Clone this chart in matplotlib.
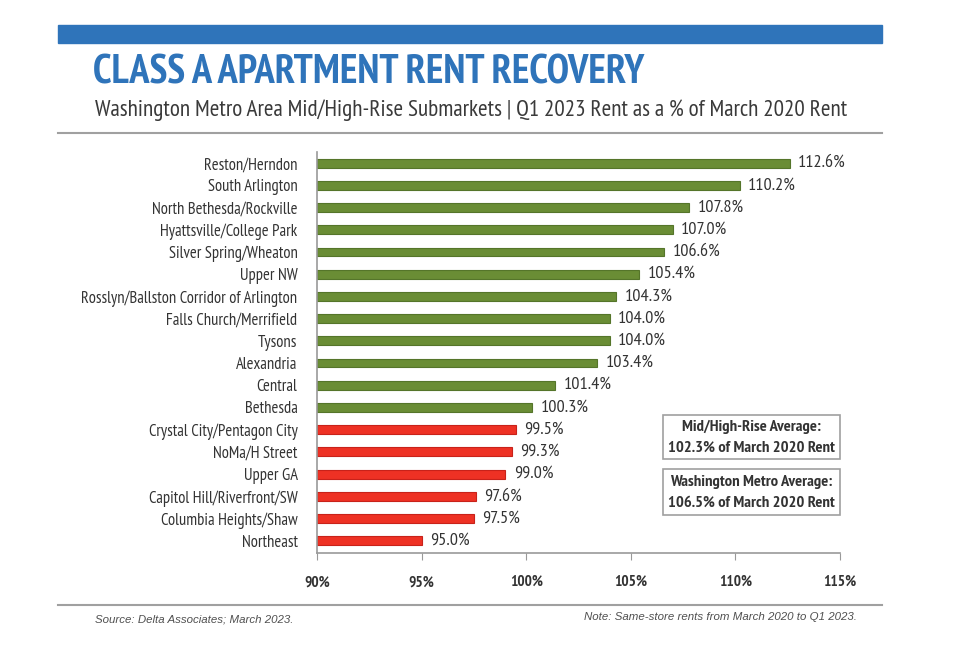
import matplotlib
matplotlib.use("Agg")
import matplotlib.pyplot as plt
from matplotlib import font_manager as fm
from matplotlib import patheffects as pe
from matplotlib.patches import Rectangle
from matplotlib.lines import Line2D

categories = ["Reston/Herndon", "South Arlington", "North Bethesda/Rockville",
              "Hyattsville/College Park", "Silver Spring/Wheaton", "Upper NW",
              "Rosslyn/Ballston Corridor of Arlington", "Falls Church/Merrifield",
              "Tysons", "Alexandria", "Central", "Bethesda",
              "Crystal City/Pentagon City", "NoMa/H Street", "Upper GA",
              "Capitol Hill/Riverfront/SW", "Columbia Heights/Shaw", "Northeast"]
values = [112.6, 110.2, 107.8, 107.0, 106.6, 105.4, 104.3, 104.0, 104.0, 103.4,
          101.4, 100.3, 99.5, 99.3, 99.0, 97.6, 97.5, 95.0]
xticks = [90, 95, 100, 105, 110, 115]
title = "CLASS A APARTMENT RENT RECOVERY"
subtitle = "Washington Metro Area Mid/High-Rise Submarkets | Q1 2023 Rent as a % of March 2020 Rent"
box_texts = ["Mid/High-Rise Average:\n102.3% of March 2020 Rent",
             "Washington Metro Average:\n106.5% of March 2020 Rent"]
source = "Source: Delta Associates; March 2023."
note = "Note: Same-store rents from March 2020 to Q1 2023."


def find(name, weight="normal", style="normal"):
    try:
        return fm.findfont(fm.FontProperties(family=name, weight=weight, style=style),
                           fallback_to_default=False)
    except Exception:
        return None


cands = ["Liberation Sans Narrow", "Arial Narrow", "Archivo Narrow", "PT Sans Narrow",
         "Roboto Condensed", "Pragati Narrow", "Fira Sans Condensed",
         "IBM Plex Sans Condensed", "Encode Sans Condensed", "Asap Condensed"]
narrow = None
real_bold = False
for c in cands:
    r = find(c)
    b = find(c, "bold")
    if r and b and r != b:
        narrow, real_bold = c, True
        break
if narrow is None:
    for c in cands:
        if find(c):
            narrow = c
            break
if narrow is None:
    narrow = "Liberation Sans"
    real_bold = True
fam = [narrow, "DejaVu Sans"]
plt.rcParams['font.family'] = fam

# italic family for the footer
ital_fam = narrow
r = find(narrow)
i = find(narrow, style="italic")
if not (r and i and r != i):
    ital_fam = "Liberation Sans"

W, H = 960, 653
fig = plt.figure(figsize=(W/100, H/100), dpi=100)
renderer = fig.canvas.get_renderer()


def fx(px): return px / W
def fy(py): return 1 - py / H


def bold_fx(color, lw):
    if real_bold:
        return []
    return [pe.withStroke(linewidth=lw, foreground=color)]


def fit_size(text, target_px, weight="normal", style="normal", base=12, family=None):
    kw = {} if family is None else {"family": [family, "DejaVu Sans"]}
    t = fig.text(0, 0, text, fontsize=base, fontweight=weight, style=style, **kw)
    w = t.get_window_extent(renderer).width
    t.remove()
    return base * target_px / w


# top blue band
fig.patches.append(Rectangle((fx(58), fy(43)), fx(882) - fx(58), fy(25) - fy(43),
                             transform=fig.transFigure, color="#2F74BA", zorder=0))
fs_title = fit_size(title, 549, weight="bold")
fig.text(fx(93), fy(73), title, fontsize=fs_title, fontweight="bold", color="#2F74BA",
         va="center", ha="left", path_effects=bold_fx("#2F74BA", 1.6))
fs_sub = fit_size(subtitle, 749)
fig.text(fx(95), fy(110), subtitle, fontsize=fs_sub, color="#3A3A3A", va="center", ha="left")
fig.lines.append(Line2D([fx(58), fx(882)], [fy(133), fy(133)], transform=fig.transFigure,
                        color="#A0A0A0", lw=1.5))
fig.lines.append(Line2D([fx(58), fx(882)], [fy(605), fy(605)], transform=fig.transFigure,
                        color="#A0A0A0", lw=1.5))
ifam = [ital_fam, "DejaVu Sans"]
fs_src = fit_size(source, 198, style="italic", family=ital_fam)
fig.text(fx(95), fy(619), source, fontsize=fs_src, style="italic", color="#505050",
         va="center", family=ifam)
fig.text(fx(857), fy(617), note, fontsize=fs_src, style="italic", color="#505050",
         va="center", ha="right", family=ifam)

ax = fig.add_axes([fx(317), fy(553), fx(840) - fx(317), fy(152) - fy(553)])
colors = ["#6A8D35" if v >= 100 else "#EE3124" for v in values]
edges = ["#55752A" if v >= 100 else "#C8221A" for v in values]
ypos = list(range(len(categories)))
ax.barh(ypos, [v - 90 for v in values], left=90, height=0.4, color=colors,
        edgecolor=edges, linewidth=0.8)
fs_val = fit_size("112.6%", 47)
for y, v in zip(ypos, values):
    ax.text(v + 0.4, y, f"{v:.1f}%", va="center", ha="left", fontsize=fs_val, color="#333333")
ax.set_xlim(90, 115)
ax.set_ylim(17.55, -0.5)
ax.set_yticks(ypos)
fs_cat = fit_size("Rosslyn/Ballston Corridor of Arlington", 216)
ax.set_yticklabels(categories, fontsize=fs_cat, color="#333333")
ax.tick_params(axis="y", length=0, pad=14)
ax.set_xticks(xticks)
fs_tick = fit_size("100%", 33, weight="bold")
ax.set_xticklabels([f"{t}%" for t in xticks], fontsize=fs_tick, fontweight="bold", color="#333333")
for lab in ax.get_xticklabels():
    lab.set_path_effects(bold_fx("#333333", 0.9))
ax.tick_params(axis="x", length=5, color="#999999", pad=11)
for s in ["top", "right"]:
    ax.spines[s].set_visible(False)
for s in ["left", "bottom"]:
    ax.spines[s].set_color("#999999")
    ax.spines[s].set_linewidth(1.2)

# average boxes
fs_box = fit_size("Washington Metro Average:", 161, weight="bold")
for (y0, y1), txt in zip([(415, 459), (469, 515)], box_texts):
    fig.patches.append(Rectangle((fx(663), fy(y1)), fx(840) - fx(663), fy(y0) - fy(y1),
                                 transform=fig.transFigure, facecolor="white",
                                 edgecolor="#A0A0A0", lw=1.2, zorder=5))
    fig.text(fx(751.5), fy((y0 + y1) / 2), txt, fontsize=fs_box, fontweight="bold",
             color="#333333", ha="center", va="center", linespacing=1.6, zorder=6,
             path_effects=bold_fx("#333333", 0.8))

fig.savefig("out.png", dpi=100, facecolor="white")
